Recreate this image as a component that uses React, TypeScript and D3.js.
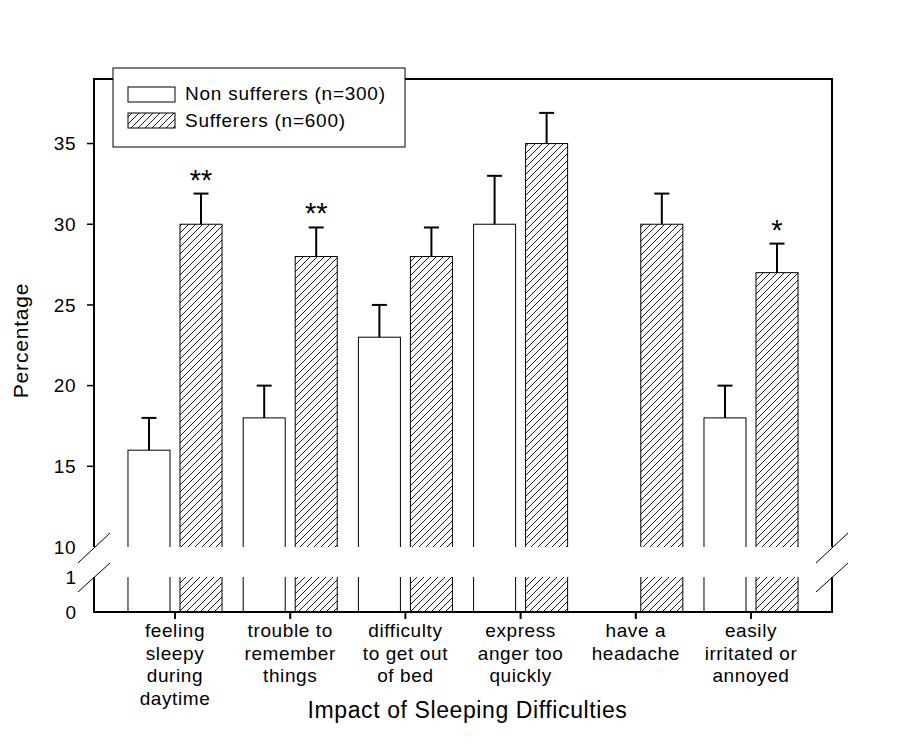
import React from "react";
import * as d3 from "d3";

const categories = ["feeling", "trouble", "difficulty", "express", "headache", "easily"];
const categoryLabels = [
  ["feeling", "sleepy", "during", "daytime"],
  ["trouble to", "remember", "things"],
  ["difficulty", "to get out", "of bed"],
  ["express", "anger too", "quickly"],
  ["have a", "headache"],
  ["easily", "irritated or", "annoyed"],
];
const nonSufferers: (number | null)[] = [16, 18, 23, 30, null, 18];
const nonSufferersErr: (number | null)[] = [2, 2, 2, 3, null, 2];
const sufferers = [30, 28, 28, 35, 30, 27];
const sufferersErr = [1.9, 1.8, 1.8, 1.9, 1.9, 1.8];
const significance = ["**", "**", "", "", "", "*"];
const upperTicks = [15, 20, 25, 30, 35];
const upperLabels = [10, 15, 20, 25, 30, 35];
const lowerLabels = [0, 1];
const seriesNames = ["Non sufferers (n=300)", "Sufferers (n=600)"];

const FONT = "'Liberation Sans', Arial, sans-serif";

export default function App() {
  const left = 94, right = 832, top = 79, bottom = 612;
  const upBottom = 547, loTop = 577;
  const yUp = d3.scaleLinear().domain([10, 39]).range([upBottom, top]);
  const yLo = d3.scaleLinear().domain([0, 1]).range([bottom, loTop]);
  const x = d3.scaleBand().domain(categories).range([117.4, 808.6]);
  const xSub = d3
    .scaleBand()
    .domain(["non", "suf"])
    .range([0, x.bandwidth()])
    .paddingInner(0.192)
    .paddingOuter(0.2035);
  const bw = xSub.bandwidth();

  const bars: { key: string; cat: string; v: number; e: number; hatch: boolean; star?: string }[] = [];
  categories.forEach((c, i) => {
    const n = nonSufferers[i];
    if (n != null) bars.push({ key: "non", cat: c, v: n, e: nonSufferersErr[i] as number, hatch: false });
    bars.push({ key: "suf", cat: c, v: sufferers[i], e: sufferersErr[i], hatch: true, star: significance[i] });
  });

  const slash = (x0: number, y0: number) => (
    <g stroke="#000" strokeWidth={1}>
      <line x1={x0 - 16} y1={y0 + 16} x2={x0 + 16} y2={y0 - 14} />
      <line x1={x0 - 16} y1={y0 + 45} x2={x0 + 16} y2={y0 + 16} />
    </g>
  );

  return (
    <svg
      width={904}
      height={753}
      style={{ position: "absolute", left: 0, top: 0, background: "#fff" }}
      fontFamily={FONT}
    >
      <defs>
        <pattern id="hatch" patternUnits="userSpaceOnUse" width={7} height={7}>
          <path d="M0,7 L7,0 M-1,1 L1,-1 M6,8 L8,6" stroke="#000" strokeWidth={0.9} />
        </pattern>
        <clipPath id="clipUp">
          <rect x={0} y={0} width={904} height={upBottom} />
        </clipPath>
        <clipPath id="clipLo">
          <rect x={0} y={loTop} width={904} height={bottom - loTop + 5} />
        </clipPath>
      </defs>
      <rect x={0} y={0} width={904} height={753} fill="#fff" />

      {/* bars upper */}
      <g clipPath="url(#clipUp)">
        {bars.map((b, i) => (
          <rect
            key={"u" + i}
            x={(x(b.cat) as number) + (xSub(b.key) as number)}
            y={yUp(b.v)}
            width={bw}
            height={upBottom + 5 - yUp(b.v)}
            fill={b.hatch ? "url(#hatch)" : "#fff"}
            stroke="#000"
            strokeWidth={1}
          />
        ))}
      </g>
      {/* bars lower */}
      <g clipPath="url(#clipLo)">
        {bars.map((b, i) => (
          <rect
            key={"l" + i}
            x={(x(b.cat) as number) + (xSub(b.key) as number)}
            y={loTop - 5}
            width={bw}
            height={yLo(0) - loTop + 5}
            fill={b.hatch ? "url(#hatch)" : "#fff"}
            stroke="#000"
            strokeWidth={1}
          />
        ))}
      </g>
      {/* error bars */}
      {bars.map((b, i) => {
        const cx = (x(b.cat) as number) + (xSub(b.key) as number) + bw / 2;
        const yt = yUp(b.v + b.e);
        return (
          <g key={"e" + i} stroke="#000" strokeWidth={2}>
            <line x1={cx} x2={cx} y1={yUp(b.v)} y2={yt} />
            <line x1={cx - 7.5} x2={cx + 7.5} y1={yt} y2={yt} />
          </g>
        );
      })}
      {/* significance */}
      {bars
        .filter((b) => b.star)
        .map((b, i) => {
          const cx = (x(b.cat) as number) + (xSub(b.key) as number) + bw / 2;
          return (
            <text key={"s" + i} x={cx} y={yUp(b.v + b.e) - 4} textAnchor="middle" fontSize={29} fill="#000">
              {b.star}
            </text>
          );
        })}

      {/* frame */}
      <g stroke="#000" strokeWidth={2} fill="none">
        <line x1={left} x2={right} y1={top} y2={top} />
        <line x1={left} x2={left} y1={top - 1} y2={upBottom} />
        <line x1={left} x2={left} y1={loTop} y2={bottom} />
        <line x1={right} x2={right} y1={top - 1} y2={upBottom} />
        <line x1={right} x2={right} y1={loTop} y2={bottom} />
        <line x1={left - 1} x2={right + 1} y1={bottom} y2={bottom} />
      </g>

      {/* breaks */}
      {slash(left, upBottom)}
      {slash(right, upBottom)}

      {/* y ticks */}
      {upperTicks.map((t) => (
        <line key={"t" + t} x1={left - 7} x2={left} y1={yUp(t)} y2={yUp(t)} stroke="#000" strokeWidth={1.5} />
      ))}
      {upperLabels.map((t) => (
        <text key={"yl" + t} x={76} y={yUp(t)} dy="0.35em" textAnchor="end" fontSize={19} letterSpacing={0.5} fill="#000">
          {t}
        </text>
      ))}
      {lowerLabels.map((t) => (
        <text key={"ll" + t} x={76} y={yLo(t)} dy="0.35em" textAnchor="end" fontSize={19} fill="#000">
          {t}
        </text>
      ))}

      {/* x ticks and labels */}
      {categories.map((c, i) => {
        const cx = (x(c) as number) + x.bandwidth() / 2;
        return (
          <g key={"x" + c}>
            <line x1={cx} x2={cx} y1={bottom} y2={bottom + 7} stroke="#000" strokeWidth={2} />
            {categoryLabels[i].map((ln, j) => (
              <text
                key={j}
                x={cx}
                y={637 + j * 22.7}
                textAnchor="middle"
                fontSize={19}
                letterSpacing={0.6}
                fill="#000"
              >
                {ln}
              </text>
            ))}
          </g>
        );
      })}

      {/* axis titles */}
      <text x={467.5} y={718} textAnchor="middle" fontSize={23} letterSpacing={0.6} fill="#000">
        Impact of Sleeping Difficulties
      </text>
      <text
        transform="translate(28,340.5) rotate(-90)"
        textAnchor="middle"
        fontSize={21}
        letterSpacing={0.8}
        fill="#000"
      >
        Percentage
      </text>

      {/* legend */}
      <rect x={113} y={68} width={292} height={79} fill="#fff" stroke="#000" strokeWidth={1} />
      <rect x={128} y={87} width={47} height={15} fill="#fff" stroke="#000" strokeWidth={1} />
      <rect x={128} y={113} width={47} height={15} fill="url(#hatch)" stroke="#000" strokeWidth={1} />
      <text x={185} y={99.5} fontSize={19} letterSpacing={0.75} fill="#000">
        {seriesNames[0]}
      </text>
      <text x={185} y={126.5} fontSize={19} letterSpacing={0.75} fill="#000">
        {seriesNames[1]}
      </text>
    </svg>
  );
}
